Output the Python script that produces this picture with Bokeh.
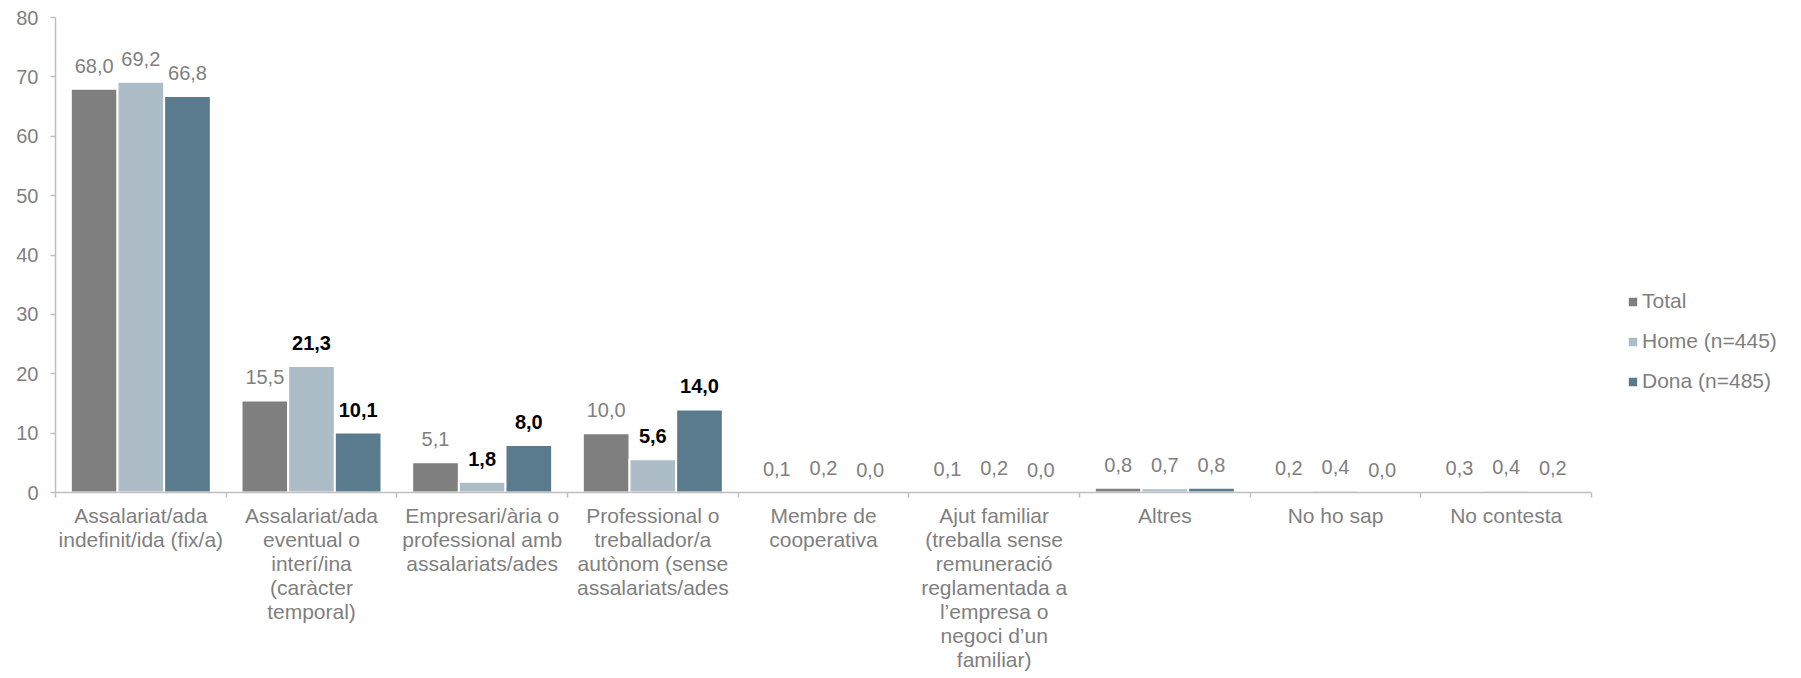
import numpy as np
from bokeh.plotting import figure
from bokeh.models import (ColumnDataSource, FixedTicker, LabelSet, Legend, LegendItem,
                          Range1d)
from bokeh.core.properties import value
from bokeh.embed import file_html
from bokeh.resources import INLINE

categories = [
    "Assalariat/ada\nindefinit/ida (fix/a)",
    "Assalariat/ada\neventual o\ninterí/ina\n(caràcter\ntemporal)",
    "Empresari/ària o\nprofessional amb\nassalariats/ades",
    "Professional o\ntreballador/a\nautònom (sense\nassalariats/ades",
    "Membre de\ncooperativa",
    "Ajut familiar\n(treballa sense\nremuneració\nreglamentada a\nl’empresa o\nnegoci d’un\nfamiliar)",
    "Altres",
    "No ho sap",
    "No contesta",
]
series_names = ["Total", "Home (n=445)", "Dona (n=485)"]
total = [68.0, 15.5, 5.1, 10.0, 0.1, 0.1, 0.8, 0.2, 0.3]
home = [69.2, 21.3, 1.8, 5.6, 0.2, 0.2, 0.7, 0.4, 0.4]
dona = [66.8, 10.1, 8.0, 14.0, 0.0, 0.0, 0.8, 0.0, 0.2]
# which value labels are bold (significant differences)
bold_home = [False, True, True, True, False, False, False, False, False]
bold_dona = [False, True, True, True, False, False, False, False, False]
y_ticks = [0, 10, 20, 30, 40, 50, 60, 70, 80]

colors = ["#7F7F7F", "#ADBDC7", "#5A7B8E"]
FONT = "Liberation Sans"
GRAY = "#7F7F7F"
AXIS = "#BFBFBF"

n = len(categories)
idx = np.arange(1, n + 1)
step = 0.2734
offsets = [-step, 0.0, step]
series = [total, home, dona]
bolds = [[False] * n, bold_home, bold_dona]

frame_w = 1730
cat_px = 1536 / 9.0
x_end = 0.5 + frame_w / cat_px

p = figure(frame_width=frame_w, frame_height=475, output_backend="svg",
           toolbar_location=None, x_range=Range1d(0.5, x_end), y_range=Range1d(0, 80),
           min_border_left=55, min_border_top=17, min_border_right=4, min_border_bottom=0)
p.outline_line_color = None
p.xgrid.visible = False
p.ygrid.visible = False
p.background_fill_color = "white"
p.border_fill_color = "white"

renderers = []
for k in range(3):
    xs = idx + offsets[k]
    src = ColumnDataSource(dict(x=xs, top=series[k]))
    r = p.vbar(x="x", top="top", bottom=0, width=step, source=src,
               fill_color=colors[k], line_color="white", line_width=2)
    renderers.append(r)
    txt = [f"{v:.1f}".replace(".", ",") for v in series[k]]
    normal = [i for i in range(n) if not bolds[k][i]]
    boldi = [i for i in range(n) if bolds[k][i]]
    for sel, style, col in ((normal, "normal", GRAY), (boldi, "bold", "#000000")):
        if not sel:
            continue
        ls = ColumnDataSource(dict(x=[xs[i] for i in sel], y=[series[k][i] for i in sel],
                                   t=[txt[i] for i in sel]))
        p.add_layout(LabelSet(x="x", y="y", text="t", source=ls, y_offset=16,
                              text_align="center", text_baseline="alphabetic",
                              text_font=value(FONT), text_font_size=value("20px"),
                              text_font_style=value(style), text_color=value(col)))

# x axis
xa = p.xaxis[0]
xa.ticker = FixedTicker(ticks=list(idx), minor_ticks=list(np.arange(0.5, n + 1, 1.0)))
xa.major_label_overrides = {int(i): categories[i - 1] for i in idx}
xa.bounds = (0.5, n + 0.5)
xa.axis_line_color = AXIS
xa.axis_line_width = 1.5
xa.major_tick_in = 0
xa.major_tick_out = 0
xa.minor_tick_in = 0
xa.minor_tick_out = 5
xa.minor_tick_line_color = AXIS
xa.minor_tick_line_width = 1.5
xa.major_label_standoff = 6
xa.major_label_text_font = FONT
xa.major_label_text_font_size = "21px"
xa.major_label_text_color = GRAY
xa.major_label_text_line_height = 1.045

# y axis
ya = p.yaxis[0]
ya.ticker = FixedTicker(ticks=y_ticks)
ya.bounds = (0, 80)
ya.axis_line_color = AXIS
ya.axis_line_width = 1.5
ya.major_tick_in = 0
ya.major_tick_out = 5
ya.major_tick_line_color = AXIS
ya.major_tick_line_width = 1.5
ya.minor_tick_line_color = None
ya.major_label_standoff = 12
ya.major_label_text_font = FONT
ya.major_label_text_font_size = "20px"
ya.major_label_text_color = GRAY

legend = Legend(items=[LegendItem(label=series_names[k], renderers=[renderers[k]]) for k in range(3)],
                location=(1571, 99), orientation="vertical",
                glyph_width=13, glyph_height=13, label_height=20, spacing=16,
                label_standoff=3, padding=0, margin=0,
                border_line_color=None, background_fill_alpha=0,
                label_text_font=FONT, label_text_font_size="21px", label_text_color=GRAY)
p.add_layout(legend, "center")

open("out.html", "w").write(file_html(p, INLINE))
